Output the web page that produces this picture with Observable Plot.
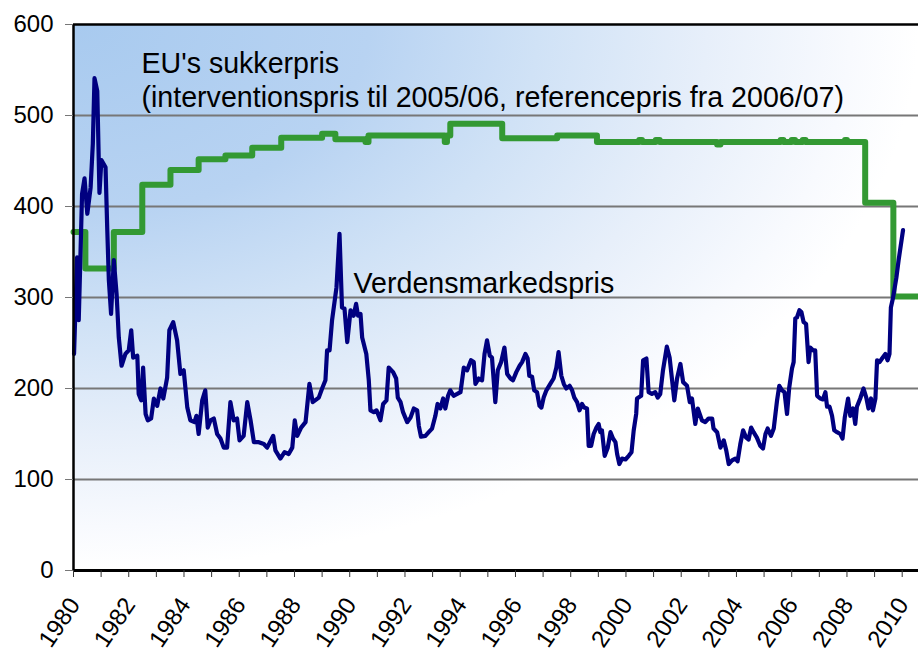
<!DOCTYPE html>
<html><head><meta charset="utf-8">
<script src="https://cdn.jsdelivr.net/npm/d3@7"></script>
<script src="https://cdn.jsdelivr.net/npm/@observablehq/plot@0.6"></script>
<style>body{margin:0;background:#fff;} #chart{position:absolute;left:0;top:0;}</style>
</head><body><div id="chart"></div>
<script>
// World market price (Verdensmarkedspris): [decimal year, value]
const worldPrice = [
[1980.02,238],[1980.13,344],[1980.19,275],[1980.31,414],[1980.40,431],[1980.50,392],[1980.62,421],[1980.70,469],[1980.76,541],[1980.86,527],[1980.94,415],[1981.01,451],[1981.16,443],[1981.22,377],[1981.28,319],[1981.36,282],[1981.46,341],[1981.56,304],[1981.64,256],[1981.74,225],[1981.88,238],[1982.00,242],[1982.09,264],[1982.16,234],[1982.31,236],[1982.36,194],[1982.45,187],[1982.52,223],[1982.61,172],[1982.69,165],[1982.81,167],[1982.91,189],[1983.03,181],[1983.15,200],[1983.25,189],[1983.39,212],[1983.47,264],[1983.61,273],[1983.75,253],[1983.87,216],[1983.99,220],[1984.12,179],[1984.23,165],[1984.38,163],[1984.45,170],[1984.53,150],[1984.66,187],[1984.77,198],[1984.86,157],[1984.96,165],[1985.08,167],[1985.20,150],[1985.32,145],[1985.44,135],[1985.56,135],[1985.68,185],[1985.80,165],[1985.92,167],[1986.01,143],[1986.16,148],[1986.29,185],[1986.41,165],[1986.53,141],[1986.71,141],[1986.89,139],[1987.01,135],[1987.23,148],[1987.31,132],[1987.49,123],[1987.64,130],[1987.79,128],[1987.92,135],[1988.01,165],[1988.10,148],[1988.24,157],[1988.40,163],[1988.54,205],[1988.66,185],[1988.88,190],[1989.00,200],[1989.12,209],[1989.18,242],[1989.27,242],[1989.36,275],[1989.52,311],[1989.63,370],[1989.72,289],[1989.81,288],[1989.91,251],[1990.03,286],[1990.14,280],[1990.23,293],[1990.30,280],[1990.39,282],[1990.45,256],[1990.60,238],[1990.69,209],[1990.75,176],[1990.87,174],[1990.97,176],[1991.11,165],[1991.21,183],[1991.33,187],[1991.41,223],[1991.57,218],[1991.68,211],[1991.74,190],[1991.84,185],[1991.93,174],[1992.08,163],[1992.20,168],[1992.32,178],[1992.44,176],[1992.50,159],[1992.58,147],[1992.74,148],[1992.86,152],[1992.98,156],[1993.10,170],[1993.18,183],[1993.28,178],[1993.38,189],[1993.46,178],[1993.56,192],[1993.64,198],[1993.76,192],[1993.89,194],[1994.01,196],[1994.13,223],[1994.25,220],[1994.39,231],[1994.49,229],[1994.55,205],[1994.67,211],[1994.79,209],[1994.88,238],[1994.97,253],[1995.07,236],[1995.15,234],[1995.27,185],[1995.36,220],[1995.48,229],[1995.60,245],[1995.70,216],[1995.82,211],[1995.91,209],[1996.03,218],[1996.15,225],[1996.24,229],[1996.36,238],[1996.44,233],[1996.50,214],[1996.60,213],[1996.68,198],[1996.78,196],[1996.87,181],[1996.94,179],[1997.02,190],[1997.12,198],[1997.26,205],[1997.38,211],[1997.48,223],[1997.56,240],[1997.66,214],[1997.75,205],[1997.84,200],[1997.96,203],[1998.05,198],[1998.13,190],[1998.23,185],[1998.32,176],[1998.41,183],[1998.49,179],[1998.59,178],[1998.65,137],[1998.74,137],[1998.83,150],[1998.93,157],[1999.01,161],[1999.07,152],[1999.13,154],[1999.23,126],[1999.34,135],[1999.44,152],[1999.53,145],[1999.62,141],[1999.68,128],[1999.76,117],[1999.86,123],[1999.98,122],[2000.10,126],[2000.20,130],[2000.28,154],[2000.37,172],[2000.40,189],[2000.55,192],[2000.62,231],[2000.74,233],[2000.82,196],[2000.94,194],[2001.06,196],[2001.15,190],[2001.24,194],[2001.34,220],[2001.48,246],[2001.58,234],[2001.67,209],[2001.75,187],[2001.85,211],[2001.97,227],[2002.07,207],[2002.21,203],[2002.31,185],[2002.39,189],[2002.51,161],[2002.60,178],[2002.75,165],[2002.87,163],[2002.99,167],[2003.12,167],[2003.17,156],[2003.30,152],[2003.42,135],[2003.54,143],[2003.63,132],[2003.72,117],[2003.84,121],[2003.96,123],[2004.04,120],[2004.14,139],[2004.24,154],[2004.35,146],[2004.44,144],[2004.53,157],[2004.62,152],[2004.74,146],[2004.86,137],[2004.96,134],[2005.05,150],[2005.13,156],[2005.25,148],[2005.35,156],[2005.47,187],[2005.55,203],[2005.65,198],[2005.74,196],[2005.83,172],[2005.91,201],[2006.01,222],[2006.07,229],[2006.13,277],[2006.19,278],[2006.28,286],[2006.35,284],[2006.43,273],[2006.52,271],[2006.61,229],[2006.67,245],[2006.77,242],[2006.85,242],[2006.92,192],[2007.04,189],[2007.13,188],[2007.22,196],[2007.28,180],[2007.37,180],[2007.46,170],[2007.54,154],[2007.64,152],[2007.76,150],[2007.84,145],[2007.92,168],[2008.04,189],[2008.12,170],[2008.22,178],[2008.30,161],[2008.36,180],[2008.48,189],[2008.60,200],[2008.70,190],[2008.78,178],[2008.87,189],[2008.94,176],[2009.03,189],[2009.09,231],[2009.18,229],[2009.27,233],[2009.39,238],[2009.47,231],[2009.54,238],[2009.59,289],[2009.67,300],[2009.79,322],[2009.87,341],[2010.03,374]
];
// EU sugar price (step changes): [decimal year, value]
const euPrice = [
[1980.00,372],[1980.43,332],[1981.46,372],[1982.49,424],[1983.51,440],[1984.53,452],[1985.50,456],[1986.47,464.5],[1987.52,475.5],[1989.00,480],[1989.48,474],[1990.57,471],[1990.68,478],[1993.44,471],[1993.52,478],[1993.64,491],[1995.52,475],[1997.51,478],[1998.95,471],[2000.48,473],[2000.58,471],[2001.08,473],[2001.22,471],[2003.30,468],[2003.42,471],[2005.60,473],[2005.70,471],[2006.00,473],[2006.12,471],[2006.40,473],[2006.50,471],[2007.93,473],[2008.00,471],[2008.66,404],[2009.68,301],[2010.59,301]
];
const yTicks = [0, 100, 200, 300, 400, 500, 600];
const gridValues = [100, 200, 300, 400, 500];
const yearTicks = [1980,1981,1982,1983,1984,1985,1986,1987,1988,1989,1990,1991,1992,1993,1994,1995,1996,1997,1998,1999,2000,2001,2002,2003,2004,2005,2006,2007,2008,2009,2010];
const yearLabels = [1980,1982,1984,1986,1988,1990,1992,1994,1996,1998,2000,2002,2004,2006,2008,2010];
const annotText = ["EU's sukkerpris", "(interventionspris til 2005/06, referencepris fra 2006/07)", "Verdensmarkedspris"];
const annX = [1982.46, 1982.46, 1990.14];
const annY = [547, 509, 305];

const world = worldPrice.map(([x, y]) => ({x, y}));
const eu = euPrice.map(([x, y]) => ({x, y}));
const ann = annotText.map((t, i) => ({t, x: annX[i], y: annY[i]}));

const svg = Plot.plot({
  width: 918, height: 649,
  marginLeft: 73, marginRight: 0, marginTop: 24, marginBottom: 79,
  style: {fontFamily: "'Liberation Sans', Arial, sans-serif", background: "white", overflow: "visible"},
  x: {domain: [1980, 2010.59], axis: null, label: null},
  y: {domain: [0, 600], axis: null, label: null},
  marks: [
    Plot.frame({fill: "url(#bggrad)", stroke: null}),
    Plot.ruleY(gridValues, {stroke: "#777", strokeWidth: 2}),
    Plot.line(eu, {x: "x", y: "y", curve: "step-after", stroke: "#339933", strokeWidth: 6, strokeLinejoin: "round"}),
    Plot.line(world, {x: "x", y: "y", stroke: "#000080", strokeWidth: 4.2, strokeLinejoin: "round"}),
    Plot.ruleY([600], {stroke: "black", strokeWidth: 2.5}),
    Plot.ruleX([1980], {stroke: "black", strokeWidth: 2.5}),
    Plot.ruleY([0], {stroke: "black", strokeWidth: 3}),
    Plot.axisY({ticks: yTicks, label: null, tickSize: 8, tickPadding: 12, fontSize: 24, stroke: "#777", fill: "black", tickFormat: d => String(d)}),
    Plot.axisX({ticks: yearTicks, label: null, tickSize: 7, stroke: "#333", tickFormat: () => ""}),
    Plot.text(yearLabels, {x: d => d, frameAnchor: "bottom", text: d => String(d), rotate: -56, textAnchor: "end", lineAnchor: "middle", dx: 1, dy: 30, fontSize: 24, fill: "black"}),
    Plot.text(ann, {x: "x", y: "y", text: "t", textAnchor: "start", lineAnchor: "bottom", fontSize: 28.6, fill: "black"})
  ]
});

const ns = "http://www.w3.org/2000/svg";
const defs = document.createElementNS(ns, "defs");
const grad = document.createElementNS(ns, "radialGradient");
grad.setAttribute("id", "bggrad");
grad.setAttribute("cx", "0"); grad.setAttribute("cy", "0");
grad.setAttribute("fx", "0"); grad.setAttribute("fy", "0");
grad.setAttribute("r", "1");
[[0, "#a8caef"], [0.35, "#b8d3f2"], [0.55, "#d0e2f6"], [0.75, "#e7effa"], [0.92, "#f8fafe"], [1, "#ffffff"]].forEach(([o, c]) => {
  const s = document.createElementNS(ns, "stop");
  s.setAttribute("offset", o); s.setAttribute("stop-color", c);
  grad.appendChild(s);
});
defs.appendChild(grad);
svg.insertBefore(defs, svg.firstChild);
document.getElementById("chart").appendChild(svg);
</script></body></html>
